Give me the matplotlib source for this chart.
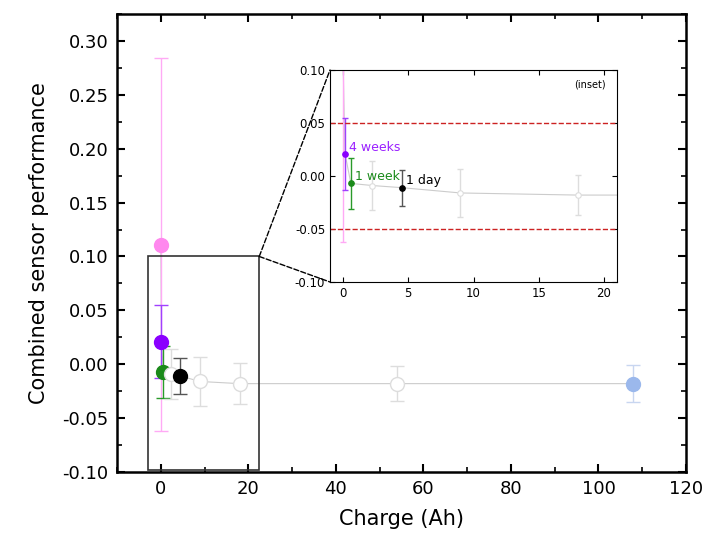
import matplotlib.pyplot as plt
from matplotlib.patches import Rectangle, ConnectionPatch

charge = [0, 0.15, 0.6, 2.25, 4.5, 9, 18, 54, 108]
perf = [0.111, 0.021, -0.007, -0.009, -0.011, -0.016, -0.018, -0.018, -0.018]
err = [0.173, 0.034, 0.024, 0.023, 0.017, 0.023, 0.019, 0.016, 0.017]
face = ['#ff88ee', '#8a00ff', '#1a8a1a', 'white', 'black', 'white', 'white', 'white', '#9bb8ec']
ecol = ['#ffaaf5', '#a040ff', '#2a9a2a', '#dddddd', '#555555', '#dddddd', '#dddddd', '#dddddd', '#c8d6f0']
labels = {1: ('4 weeks', '#9a20ff'), 2: ('1 week', '#1a8a1a'), 4: ('1 day', 'black')}

fig = plt.figure(figsize=(7.02, 5.46), dpi=100)
ax = fig.add_axes([117/702, 1-472/546, 569/702, 458/546])

def draw(a, ms, lw, cap):
    a.plot(charge, perf, color='#cccccc', lw=0.8, zorder=1)
    for x, y, e, f, c in zip(charge, perf, err, face, ecol):
        a.errorbar(x, y, yerr=e, fmt='none', ecolor=c, elinewidth=1, capsize=cap, zorder=2)
        a.plot(x, y, 'o', ms=ms, mfc=f, mec='#dddddd' if f == 'white' else f, mew=lw, zorder=3)

draw(ax, 10, 1, 5)
ax.set_xlim(-10, 120)
ax.set_ylim(-0.1, 0.325)
ax.set_xticks(range(0, 121, 20))
ax.set_yticks([-0.10, -0.05, 0, 0.05, 0.10, 0.15, 0.20, 0.25, 0.30])
ax.set_yticklabels(['%.2f' % v for v in ax.get_yticks()])
ax.set_xticks(range(-10, 121, 10), minor=True)
ax.set_yticks([v/1000 for v in range(-75, 326, 50)], minor=True)
ax.tick_params(labelsize=13, width=1.5, length=6, direction='in', top=True, right=True, pad=6)
ax.tick_params(which='minor', length=3.5, width=1.2, direction='in', top=True, right=True)
for s in ax.spines.values():
    s.set_linewidth(1.8)
ax.set_xlabel('Charge (Ah)', fontsize=15, labelpad=8)
ax.set_ylabel('Combined sensor performance', fontsize=15, labelpad=10)
ax.add_patch(Rectangle((-3, -0.098), 25.5, 0.198, fill=False, ec='#333333', lw=1.2, zorder=4))

ins = fig.add_axes([330/702, 1-282/546, 287/702, 212/546])
draw(ins, 4, 0.8, 2)
ins.set_xlim(-1, 21)
ins.set_ylim(-0.1, 0.1)
ins.set_xticks([0, 5, 10, 15, 20])
ins.set_yticks([-0.10, -0.05, 0, 0.05, 0.10])
ins.set_yticklabels(['-0.10', '-0.05', '0.00', '0.05', '0.10'])
ins.tick_params(labelsize=8.5, direction='in', top=True, right=True)
for yv in (0.05, -0.05):
    ins.axhline(yv, color='#cc2222', ls='--', lw=1)
for i, (t, c) in labels.items():
    ins.text(charge[i] + 0.3, perf[i] + 0.003, t, color=c, fontsize=9)
ins.text(0.96, 0.93, '(inset)', transform=ins.transAxes, ha='right', va='center', fontsize=7)

for yv in (0.1, -0.1):
    con = ConnectionPatch(xyA=(22.5, 0.1), coordsA=ax.transData, xyB=(-1, yv), coordsB=ins.transData,
                          ls='--', color='black', lw=1)
    fig.add_artist(con)

fig.savefig('out.png', dpi=100)
